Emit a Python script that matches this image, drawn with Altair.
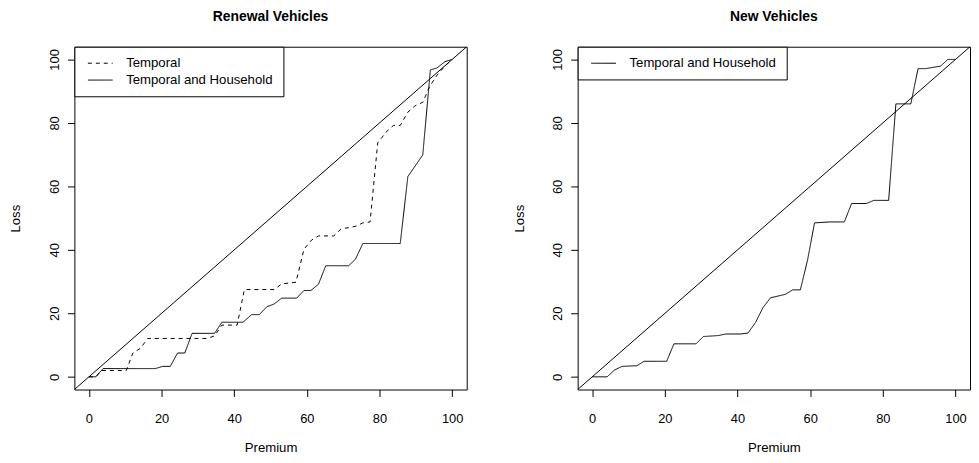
import altair as alt
import pandas as pd

# ---------------- data ----------------
premium_ticks = [0, 20, 40, 60, 80, 100]
axis_domain = [-4, 104]
diag_vals = [-4, 104]

renew_temporal_x = [0, 1.9, 3.5, 10.3, 12.1, 14.2, 16.2, 32.6, 34.6, 36.6, 40.8, 42.8, 51.0, 53.1,
                    57.0, 59.2, 61.3, 63.2, 67.4, 69.5, 71.6, 73.6, 75.4, 77.4, 79.5, 81.8, 83.8,
                    85.7, 87.8, 89.8, 91.9, 93.8, 95.8, 97.9, 100]
renew_temporal_y = [0, 0, 2.0, 2.0, 7.5, 9.0, 12.1, 12.1, 12.9, 16.3, 16.3, 27.5, 27.5, 29.3,
                    29.8, 40.2, 43.1, 44.4, 44.4, 46.7, 47.0, 47.5, 48.5, 48.8, 73.7, 77.1, 79.2,
                    79.2, 83.4, 85.4, 86.5, 91.5, 95.0, 97.8, 100]

renew_th_x = [0, 1.9, 3.9, 18.3, 20.3, 22.4, 24.4, 26.4, 28.4, 34.6, 36.6, 42.4, 44.8, 46.9,
              49.0, 50.9, 53.1, 57.2, 59.2, 61.1, 63.2, 65.2, 71.5, 73.4, 75.4, 85.7, 87.8,
              91.9, 94.0, 95.8, 98.0, 100]
renew_th_y = [0, 0, 2.6, 2.6, 3.3, 3.3, 7.5, 7.5, 13.7, 13.7, 17.2, 17.2, 19.6, 19.6,
              22.1, 22.9, 24.8, 24.8, 27.2, 27.2, 29.2, 35.0, 35.0, 37.1, 42.0, 42.0, 63.1,
              69.9, 96.7, 97.3, 99.3, 100]

new_th_x = [0, 4.1, 6.1, 8.2, 12.3, 14.3, 20.5, 22.5, 28.6, 30.6, 34.7, 36.8, 40.9, 42.9,
            45.0, 47.0, 49.1, 53.2, 55.2, 57.3, 59.3, 61.2, 65.3, 69.4, 71.4, 75.5, 77.5,
            81.6, 83.6, 87.7, 89.7, 91.8, 95.9, 97.9, 100]
new_th_y = [0, 0, 2.1, 3.3, 3.5, 4.9, 4.9, 10.4, 10.4, 12.7, 13.0, 13.5, 13.5, 13.8,
            17.2, 21.8, 24.9, 26.0, 27.4, 27.4, 36.9, 48.5, 48.8, 48.8, 54.6, 54.6, 55.6,
            55.6, 86.0, 86.0, 97.1, 97.1, 97.9, 100, 100]

series_names = ["Temporal", "Temporal and Household"]
panel_titles = ["Renewal Vehicles", "New Vehicles"]

FONT = "Liberation Sans"


def line_df(xs, ys, name):
    return pd.DataFrame({"Premium": xs, "Loss": ys, "Model": name, "ord": list(range(len(xs)))})


def panel(df, title, dash_domain, dash_range):
    xs = alt.Scale(domain=axis_domain, nice=False, zero=False)
    ys = alt.Scale(domain=axis_domain, nice=False, zero=False)
    xaxis = alt.Axis(values=premium_ticks, title="Premium", grid=False, labelPadding=16,
                     titlePadding=16)
    yaxis = alt.Axis(values=premium_ticks, title="Loss", grid=False, labelAngle=270,
                     labelPadding=6, titlePadding=26)
    diag = alt.Chart(pd.DataFrame({"Premium": diag_vals, "Loss": diag_vals})).mark_line(
        color="black", strokeWidth=1, clip=True
    ).encode(
        x=alt.X("Premium:Q", scale=xs, axis=xaxis),
        y=alt.Y("Loss:Q", scale=ys, axis=yaxis),
    )
    lines = alt.Chart(df).mark_line(color="black", strokeWidth=1, clip=True).encode(
        x=alt.X("Premium:Q", scale=xs, axis=xaxis),
        y=alt.Y("Loss:Q", scale=ys, axis=yaxis),
        strokeDash=alt.StrokeDash(
            "Model:N",
            scale=alt.Scale(domain=dash_domain, range=dash_range),
            legend=alt.Legend(
                title=None, orient="top-left", offset=0, padding=10,
                strokeColor="black", fillColor="white", cornerRadius=0,
                symbolType="M-0.6,0H4.4", symbolSize=100, symbolStrokeWidth=1,
                symbolStrokeColor="black", labelOffset=29, labelFontSize=13.3,
                labelFont=FONT, labelColor="black", labelLimit=400, rowPadding=3,
            ),
        ),
        order="ord:Q",
    )
    return alt.layer(diag, lines).properties(
        width=396, height=346,
        title=alt.TitleParams(title, anchor="middle", frame="group"),
    )


left_df = pd.concat([
    line_df(renew_temporal_x, renew_temporal_y, series_names[0]),
    line_df(renew_th_x, renew_th_y, series_names[1]),
])
right_df = line_df(new_th_x, new_th_y, series_names[1])

left = panel(left_df, panel_titles[0], series_names, [[4, 4], [1, 0]])
right = panel(right_df, panel_titles[1], [series_names[1]], [[1, 0]])

chart = alt.hconcat(left, right, spacing=44).resolve_scale(
    strokeDash="independent"
).resolve_legend(strokeDash="independent").properties(
    padding={"left": 0, "top": 0, "right": 0, "bottom": 0}, background="white"
).configure_view(
    stroke="black", strokeWidth=1
).configure_axis(
    domain=False, grid=False, ticks=True, tickColor="black", tickSize=7, tickWidth=1,
    labelFont=FONT, labelFontSize=13, labelColor="black",
    titleFont=FONT, titleFontSize=13.3, titleFontWeight="normal", titleColor="black",
).configure_title(
    font=FONT, fontSize=14, fontWeight="bold", color="black", offset=22
)

chart.save("out.html", embed_options={"renderer": "svg", "actions": False})
